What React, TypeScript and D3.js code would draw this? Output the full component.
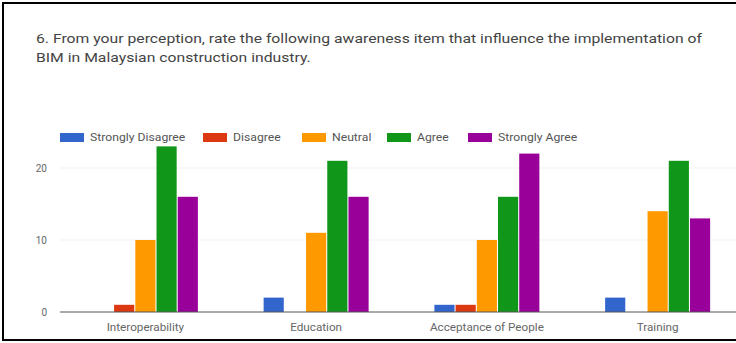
import React from "react";
import * as d3 from "d3";

const categories = ["Interoperability", "Education", "Acceptance of People", "Training"];
const seriesNames = ["Strongly Disagree", "Disagree", "Neutral", "Agree", "Strongly Agree"];
const seriesColors = ["#3366cc", "#dc3912", "#ff9900", "#109618", "#990099"];
// values[series][category]
const stronglyDisagree = [0, 2, 1, 2];
const disagree = [1, 0, 1, 0];
const neutral = [10, 11, 10, 14];
const agree = [23, 21, 16, 21];
const stronglyAgree = [16, 16, 22, 13];
const yTicks = [0, 10, 20];
const titleLines = [
  "6. From your perception, rate the following awareness item that influence the implementation of",
  "BIM in Malaysian construction industry.",
];

const seriesValues = [stronglyDisagree, disagree, neutral, agree, stronglyAgree];

const W = 736;
const H = 343;
const FONT = "Roboto, 'Noto Sans', Arial, sans-serif";

// text drawn with a slight horizontal stretch
function WideText(props: {
  x: number;
  y: number;
  sx: number;
  size: number;
  fill: string;
  anchor?: "start" | "middle" | "end";
  children: React.ReactNode;
}) {
  return (
    <text
      transform={`translate(${props.x},${props.y}) scale(${props.sx},1)`}
      fontSize={props.size}
      fill={props.fill}
      textAnchor={props.anchor ?? "start"}
    >
      {props.children}
    </text>
  );
}

export default function App() {
  const x0 = d3.scaleBand<string>().domain(categories).range([60, 743]).padding(0);
  const x1 = d3.scaleBand<string>().domain(seriesNames).range([-52.5, 52.5]).paddingInner(0.05);
  const y = d3.scaleLinear().domain([0, 25]).range([312, 132]);

  const legendX = [60, 203, 302, 387, 468];

  return (
    <svg
      width={W}
      height={H}
      style={{ position: "absolute", left: 0, top: 0, background: "#fff" }}
      fontFamily={FONT}
    >
      <rect x={0} y={0} width={W} height={H} fill="#fff" />
      {/* frame */}
      <rect x={3} y={3} width={W + 10} height={337} fill="none" stroke="#000" strokeWidth={2} />

      {/* title */}
      {titleLines.map((t, i) => (
        <WideText key={i} x={36} y={43 + i * 19} sx={1.26} size={12.5} fill="#444">
          {t}
        </WideText>
      ))}

      {/* legend */}
      {seriesNames.map((s, i) => (
        <g key={s} transform={`translate(${legendX[i]},137)`}>
          <rect x={0} y={-4} width={24} height={9} fill={seriesColors[i]} />
          <WideText x={30} y={4} sx={1.22} size={10} fill="#555">
            {s}
          </WideText>
        </g>
      ))}

      {/* gridlines and y ticks */}
      {yTicks.map((t) => (
        <g key={t}>
          {t !== 0 && (
            <line x1={60} x2={W} y1={y(t)} y2={y(t)} stroke="#f1f1f1" strokeWidth={1} />
          )}
          <text x={47} y={y(t) + 4} fontSize={10} fill="#666" textAnchor="end">
            {t}
          </text>
        </g>
      ))}

      {/* bars */}
      {categories.map((c, ci) => {
        const cx = (x0(c) ?? 0) + x0.bandwidth() / 2;
        return (
          <g key={c}>
            {seriesNames.map((s, si) => {
              const v = seriesValues[si][ci];
              if (v <= 0) return null;
              return (
                <rect
                  key={s}
                  x={cx + (x1(s) ?? 0)}
                  y={y(v)}
                  width={x1.bandwidth()}
                  height={y(0) - y(v)}
                  fill={seriesColors[si]}
                />
              );
            })}
            <WideText x={cx} y={331} sx={1.17} size={10} fill="#666" anchor="middle">
              {c}
            </WideText>
          </g>
        );
      })}

      {/* baseline */}
      <line x1={60} x2={W} y1={y(0)} y2={y(0)} stroke="#555" strokeWidth={1} />
    </svg>
  );
}
